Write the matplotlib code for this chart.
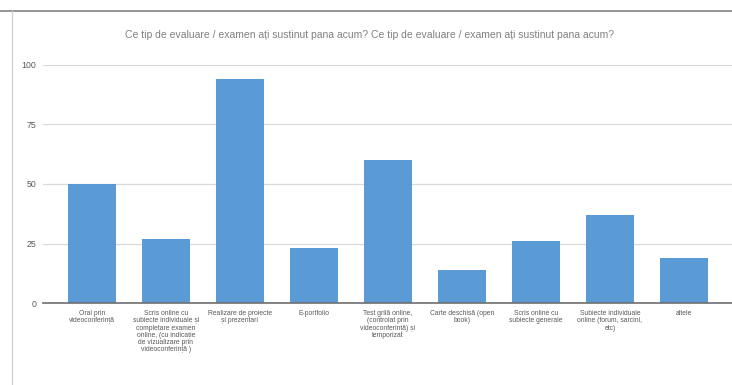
import matplotlib
matplotlib.use("Agg")
import matplotlib.pyplot as plt
from matplotlib.lines import Line2D
from matplotlib import font_manager

# Chart data
categories = [
    "Oral prin\nvideoconferință",
    "Scris online cu\nsubiecte individuale și\ncompletare examen\nonline, (cu indicație\nde vizualizare prin\nvideoconferință )",
    "Realizare de proiecte\nși prezentari",
    "E-portfolio",
    "Test grilă online,\n(controlat prin\nvideoconferință) și\ntemporizat",
    "Carte deschisă (open\nbook)",
    "Scris online cu\nsubiecte generale",
    "Subiecte individuale\nonline (forum, sarcini,\netc)",
    "altele",
]
values = [50, 27, 94, 23, 60, 14, 26, 37, 19]
yticks = [0, 25, 50, 75, 100]
title = ("Ce tip de evaluare / examen ați sustinut pana acum? "
         "Ce tip de evaluare / examen ați sustinut pana acum?")

installed = {f.name for f in font_manager.fontManager.ttflist}
narrow = "Liberation Sans Narrow" in installed
FONT = ["Liberation Sans Narrow" if narrow else "Liberation Sans", "DejaVu Sans"]
scale = 1.0 if narrow else 0.85

plt.rcParams["font.family"] = FONT

fig = plt.figure(figsize=(7.32, 3.85), dpi=100)
ax = fig.add_axes([43 / 732, 1 - 303.3 / 385, 1 - 43 / 732, (303.3 - 64.6) / 385])

x = list(range(len(values)))
ax.bar(x, values, width=0.65, color="#5b9bd5", zorder=3)

ax.set_xlim(-0.66, 8.65)
ax.set_ylim(0, 100)
ax.set_yticks(yticks)
ax.set_yticklabels([str(v) for v in yticks], fontsize=7.4 * scale, color="#595959")
ax.set_xticks(x)
ax.set_xticklabels(categories, fontsize=5.7 * scale, color="#595959",
                   linespacing=1.05, va="top")
ax.tick_params(axis="both", length=0)
ax.tick_params(axis="x", pad=5)
ax.tick_params(axis="y", pad=5)
ax.grid(True, axis="y", color="#d9d9d9", linewidth=0.9, zorder=0)
for s in ["top", "right", "left"]:
    ax.spines[s].set_visible(False)
ax.spines["bottom"].set_color("#6e6e6e")
ax.spines["bottom"].set_linewidth(1.2)
ax.spines["bottom"].set_zorder(4)

fig.text(370 / 732, 1 - 35 / 385, title, ha="center", va="center",
         fontsize=8.8 * scale, color="#808080")

# sheet border lines around the chart object
fig.add_artist(Line2D([0, 1], [1 - 11 / 385, 1 - 11 / 385], color="#8c8c8c", linewidth=1.3))
fig.add_artist(Line2D([12 / 732, 12 / 732], [0, 1 - 11 / 385], color="#d0d0d0", linewidth=0.9))

fig.savefig("out.png", dpi=100)
